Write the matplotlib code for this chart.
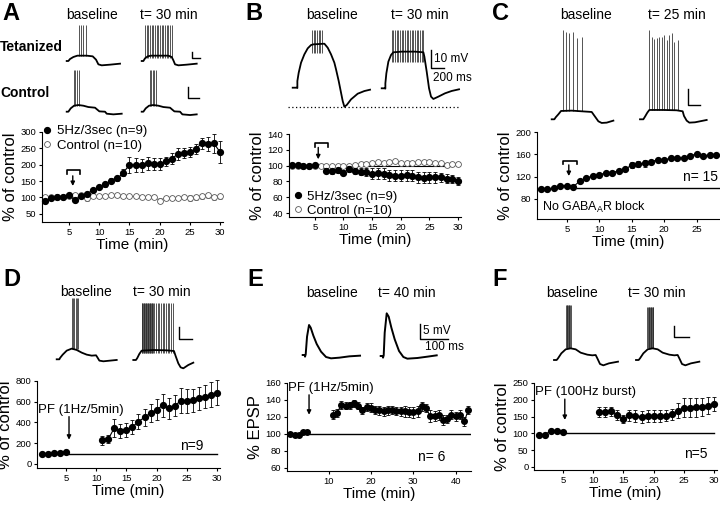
import numpy as np
import matplotlib
matplotlib.use('Agg')
import matplotlib.pyplot as plt
from matplotlib.lines import Line2D

plt.rcParams['font.family'] = ['Liberation Sans', 'DejaVu Sans']
plt.rcParams['axes.linewidth'] = 0.8
plt.rcParams['mathtext.fontset'] = 'custom'
plt.rcParams['mathtext.rm'] = 'Liberation Sans'

nan = np.nan

# ---- time course data (% of control) ----
a_time = list(range(1, 31))
a_tet = [88, 98, 101, 101, 106, 91, 105, 112, 123, 131, 140, 151, 158, 176, 200,
         199, 199, 204, 202, 202, 210, 219, 232, 236, 238, 249, 265, 263, 265, 239]
a_tet_err = [4, 4, 4, 4, 4, 5, 5, 5, 6, 6, 7, 8, 9, 11, 25,
             22, 20, 20, 18, 18, 15, 16, 18, 16, 15, 15, 18, 22, 30, 35]
a_ctl = [100, 100, 102, 101, 105, 108, 108, 97, 103, 104, 103, 106, 106, 104, 104,
         103, 102, 102, 102, 90, 99, 97, 99, 102, 98, 100, 104, 106, 100, 103]
a_ctl_err = [4, 4, 4, 4, 5, 6, 6, 7, 5, 5, 5, 5, 5, 5, 5,
             5, 5, 5, 5, 7, 6, 6, 6, 7, 8, 8, 8, 9, 8, 8]

b_time = list(range(1, 31))
b_tet = [100.5, 100.5, 100, 99.6, 100.5, nan, 93.8, 93, 94, 91, 96, 93, 92.5, 92, 89.6,
         90.4, 90, 88, 87.5, 87.5, 88, 87, 85, 84.5, 85, 85.4, 85, 83.7, 83, 81]
b_tet_err = [1.5, 1.5, 1.5, 1.5, 1.5, 0, 3, 3, 3, 3, 4, 4, 4, 5, 7,
             7, 7, 7, 7, 7, 7, 7, 7, 7, 7, 7, 6, 6, 5, 5]
b_ctl = [100, 100, 100, 100, 100, 100, 99, 99, 99, 99, 99, 101, 102, 102, 103,
         104, 103, 104, 106, 103, 103, 103, 105, 104, 104, 103, 103, 101, 102, 102]
b_ctl_err = [1.5, 1.5, 1.5, 1.5, 1.5, 2, 2, 2, 2, 2, 2, 2, 2, 2, 2,
             2, 2, 2, 2, 2, 2, 2, 2, 2, 2, 2, 2, 2, 2, 2]

c_time = list(range(1, 29))
c_val = [97, 97.5, 98.7, 104, 104, 102, 112, 117, 121.6, 123, 127, 127, 130.6, 133,
         141, 143, 144, 147, 150, 150, 153, 153, 154, 157, 161, 157, 159, 159]
c_err = [2, 2, 2, 2, 2, 2, 2, 2, 2, 2, 2, 2, 2, 2,
         5, 5, 6, 3, 3, 3, 3, 3, 3, 3, 3, 3, 3, 3]

d_time = list(range(1, 31))
d_val = [92, 92, 105, 105, 118, nan, nan, nan, nan, nan,
         226, 239, 347, 319, 328, 357, 408, 449, 491, 523,
         564, 535, 561, 609, 609, 615, 634, 647, 669, 685]
d_err = [10, 10, 10, 10, 10, 0, 0, 0, 0, 0,
         42, 42, 90, 70, 70, 65, 75, 85, 90, 100,
         110, 100, 100, 120, 115, 110, 110, 110, 120, 120]

e_time = list(range(1, 44))
e_val = [100, 99, 99, 102, 102, nan, nan, nan, nan, nan,
         122.5, 124.4, 134.3, 133, 133.5, 136, 133, 127.6, 131.5, 130.8,
         128.4, 127.6, 126.4, 127.6, 128.4, 126.8, 126.4, 126.4, 125.6, 125.2,
         126.4, 132.3, 130.4, 120.5, 121.3, 122, 116.5, 117.3, 122.5, 120.5,
         122.5, 114.5, 128.4]
e_err = [1, 1, 1, 1, 1, 0, 0, 0, 0, 0,
         5, 5, 5, 4, 4, 4, 4, 4, 5, 5,
         5, 5, 5, 5, 5, 5, 5, 6, 6, 6,
         6, 5, 5, 7, 6, 6, 6, 5, 5, 5,
         5, 5, 5]

f_time = list(range(1, 31))
f_val = [95, 96, 108, 107, 105, nan, nan, nan, nan, nan,
         163, 163, 166, 155, 142, 154, 152, 150, 152, 152,
         153, 153, 157, 168, 177, 177, 178, 179, 182, 188]
f_err = [5, 5, 5, 5, 5, 0, 0, 0, 0, 0,
         15, 15, 14, 14, 12, 16, 17, 18, 18, 18,
         18, 17, 16, 22, 28, 28, 28, 27, 25, 20]

# ---- example recordings (sketch of waveforms: (t, v) in local trace units) ----
a_tet_base = [(0, 0), (5, 0), (10, 6), (20, 12), (32, 16), (60, 16), (78, 14), (88, 4),
              (95, -10), (105, -13), (130, -11), (160, -8)]
a_tet_base_spk = [37, 44, 50, 58]
a_tet_30 = [(0, 0), (5, 0), (10, 8), (18, 14), (28, 16), (80, 16), (90, 12), (95, 2),
            (100, -10), (110, -13), (135, -11), (165, -8)]
a_tet_30_spk = [10, 15, 20, 25, 30, 35, 40, 45, 50, 55, 60, 65, 70, 75, 80, 85, 90]
a_ctl_base = [(0, 0), (5, 0), (12, 10), (22, 18), (35, 20), (50, 18), (65, 14), (85, 12),
              (92, 6), (98, 1), (115, 0), (120, -6), (140, -8), (165, -6)]
a_ctl_base_spk = [22, 26, 31, 36]
a_ctl_30 = [(0, 0), (5, 0), (12, 10), (22, 18), (35, 20), (50, 18), (65, 14), (85, 12),
            (92, 6), (98, 1), (115, 0), (122, -8), (145, -10), (165, -8)]
a_ctl_30_spk = [25, 29, 33, 38, 43]

b_base = [(0, 0), (12, 0), (14, -1), (14, 20), (18, 45), (25, 75), (35, 100), (45, 118),
          (55, 128), (62, 130), (95, 132), (105, 120), (115, 100), (125, 75), (130, 55),
          (138, 20), (145, -15), (150, -40), (155, -57), (162, -52), (175, -35),
          (195, -18), (215, -10), (232, -6)]
b_base_spk = [58, 63, 68, 73, 78, 83, 88]
b_30 = [(0, 0), (10, 0), (11, -1), (11, 15), (14, 45), (20, 80), (28, 100), (35, 108),
        (60, 110), (100, 110), (125, 108), (128, 95), (135, 50), (142, 0), (148, -25),
        (155, -32), (170, -25), (190, -15), (210, -8), (232, -3)]
b_30_spk = [30, 35, 40, 45, 50, 55, 60, 65, 70, 75, 80, 85, 90, 95, 100, 105, 110,
            115, 120, 125]

c_base = [(0, 0), (8, 0), (12, 6), (20, 15), (28, 25), (60, 26), (90, 24), (120, 22),
          (130, 8), (140, -6), (150, -11), (165, -10), (185, -4)]
c_base_spk = [33, 43, 53, 65, 75, 90]
c_base_top = [268, 263, 258, 263, 243, 246]
c_25 = [(0, 0), (10, 0), (15, 8), (22, 20), (28, 28), (70, 28), (110, 27), (128, 24),
        (132, 10), (140, -4), (148, -10), (165, -9), (185, -5), (200, -2)]
c_25_spk = [28, 35, 42, 50, 57, 65, 72, 80, 87, 95, 102, 115]
c_25_top = [268, 248, 240, 243, 246, 248, 253, 238, 253, 258, 233, 238]

d_base = [(0, 0), (8, 0), (10, 4), (18, 14), (30, 26), (45, 32), (60, 28), (75, 20),
          (90, 14), (105, 11), (118, 12), (122, 6), (128, -4), (140, -6), (160, -4),
          (180, -2)]
d_base_spk = [45, 49, 53, 57, 61, 65]
d_30 = [(0, 0), (8, 0), (12, 6), (18, 18), (25, 28), (60, 30), (100, 29), (122, 27),
        (127, 12), (135, -10), (142, -22), (150, -25), (165, -15), (180, -8)]
d_30_spk = [25, 27, 29, 31, 33, 35, 37, 39, 41, 43, 45, 47, 49, 51, 53, 55, 57, 59,
            63, 68, 73, 78, 83, 88, 93, 98, 103, 108, 113, 118]

e_base = [(0, 0), (6, 0), (7, -5), (9, 2), (13, 55), (19, 90), (24, 82), (32, 58),
          (42, 33), (55, 10), (70, -6), (85, -10), (110, -8), (140, -4), (172, -2)]
e_40 = [(0, 0), (6, 0), (7, -5), (9, 2), (12, 70), (18, 128), (24, 118), (32, 85),
        (42, 50), (55, 15), (68, -3), (80, -8), (110, -6), (140, -2), (168, 2)]

f_base = [(0, 0), (8, 0), (12, 5), (22, 20), (35, 32), (50, 35), (65, 32), (80, 22),
          (100, 16), (115, 14), (125, 15), (130, 5), (138, -12), (148, -16), (165, -10),
          (192, -5)]
f_base_spk = [36, 38, 40, 42, 44, 46, 48, 50]
f_30 = [(0, 0), (8, 0), (12, 5), (22, 20), (35, 32), (50, 35), (65, 32), (80, 22),
        (100, 16), (115, 14), (125, 15), (130, 5), (138, -12), (148, -16), (165, -10),
        (190, -5)]
f_30_spk = [34, 36, 38, 40, 42, 44, 46, 48, 50, 52]

W, H = 720, 509
fig = plt.figure(figsize=(7.2, 5.09), dpi=100)

# overlay in pixel coords for the example traces and labels
ov = fig.add_axes([0, 0, 1, 1])
ov.set_xlim(0, W)
ov.set_ylim(H, 0)
ov.axis('off')


def box(l, t, r, b):
    return [l / W, 1 - b / H, (r - l) / W, (b - t) / H]


def trace(x0, y0, shape, spk=(), tops=0, bot=0, lw=1.3):
    tx = np.array([p[0] for p in shape]) / 3.0
    tv = np.array([p[1] for p in shape]) / 3.0
    if len(spk):
        ov.vlines(x0 + np.asarray(spk) / 3.0, y0 - bot / 3.0,
                  y0 - np.asarray(tops) / 3.0, color='0.15', lw=0.55)
    ov.plot(x0 + tx, y0 - tv, color='k', lw=lw, solid_joinstyle='round')


def sbar(x, yt, yb, xr):
    ov.plot([x, x, xr], [yt, yb, yb], color='k', lw=1.0)


def lbl(x, y, s, size=10, **kw):
    ov.text(x, y, s, fontsize=size, va='center', **kw)


# letters and headers
for letter, x, y in [('A', 2, 13), ('B', 245, 13), ('C', 492, 13),
                     ('D', 3, 280), ('E', 247, 280), ('F', 492, 280)]:
    lbl(x, y, letter, size=17, fontweight='bold', ha='left')
for x, y, s in [(92, 15, 'baseline'), (169, 15, 't= 30 min'),
                (332, 15, 'baseline'), (420, 15, 't= 30 min'),
                (586, 15, 'baseline'), (677, 15, 't= 25 min'),
                (86, 292, 'baseline'), (162, 292, 't= 30 min'),
                (332, 293, 'baseline'), (407, 293, 't= 40 min'),
                (572, 293, 'baseline'), (657, 293, 't= 30 min')]:
    lbl(x, y, s, ha='center')
lbl(0, 47, 'Tetanized', fontweight='bold', ha='left')
lbl(0, 93, 'Control', fontweight='bold', ha='left')

# traces
trace(66.7, 61, a_tet_base, a_tet_base_spk, 108, 14)
trace(141.7, 61, a_tet_30, a_tet_30_spk, 108, 10)
trace(66.7, 111.7, a_ctl_base, a_ctl_base_spk, 125, 18)
trace(141.7, 111.7, a_ctl_30, a_ctl_30_spk, 125, 18)
sbar(191.7, 51.7, 58.3, 200)
sbar(188.3, 87.3, 98.3, 199)

trace(292.7, 87.7, b_base, b_base_spk, 173, 103)
trace(381.7, 88.3, b_30, b_30_spk, 175, 80)
ov.plot([288, 460], [106.7, 106.7], color='k', lw=0.9, ls=(0, (1, 2)))
sbar(431, 50, 68, 444)
lbl(434, 59, '10 mV', size=8.5, ha='left')
lbl(433, 78, '200 ms', size=8.5, ha='left')

trace(551.7, 119.3, c_base, c_base_spk, c_base_top, 25)
trace(640, 119.3, c_25, c_25_spk, c_25_top, 28)
sbar(688.3, 89.3, 105, 700)

trace(56.7, 359.3, d_base, d_base_spk, 183, 30)
trace(133.3, 360, d_30, d_30_spk, 172, 22)
sbar(179, 327, 339, 192)

trace(302.7, 355, e_base, lw=1.4)
trace(380.7, 356, e_40, lw=1.4)
sbar(420, 324, 339, 448)
lbl(423, 331, '5 mV', size=8.5, ha='left')
lbl(425, 347, '100 ms', size=8.5, ha='left')

trace(554, 360, f_base, f_base_spk, 165, 35)
trace(636, 360, f_30, f_30_spk, 160, 35)
sbar(674, 326, 337, 689)


def setup(ax, xlim, ylim, xticks, yticks, ylabel='% of control'):
    ax.set_facecolor('none')
    ax.set_xlim(*xlim)
    ax.set_ylim(*ylim)
    ax.set_xticks(xticks)
    ax.set_yticks(yticks)
    for s in ('top', 'right'):
        ax.spines[s].set_visible(False)
    ax.tick_params(labelsize=6.8, length=2.5, width=0.8, pad=1.5)
    ax.set_xlabel('Time (min)', fontsize=11, labelpad=1)
    ax.set_ylabel(ylabel, fontsize=12, labelpad=1.5)


def filled(ax, t, v, e, ms=4.2):
    ax.errorbar(t, v, yerr=e, fmt='o-', color='k', ms=ms, lw=0.8, elinewidth=0.6,
                capsize=1.5, capthick=0.6, zorder=3, clip_on=False)


def opened(ax, t, v, e, ms=4.2):
    ax.errorbar(t, v, yerr=e, fmt='o-', color='0.45', mfc='white', mec='0.35',
                mew=0.6, ms=ms, lw=0.5, elinewidth=0.5, capsize=1.3, capthick=0.5,
                zorder=2, clip_on=False)


def bracket(ax, x1, x2, ytop, yleg, xa, ya1, ya2):
    ax.plot([x1, x1, x2, x2], [yleg, ytop, ytop, yleg], color='k', lw=1.2)
    arrow(ax, xa, ya1, ya2)


def arrow(ax, x, y1, y2):
    ax.annotate('', xy=(x, y2), xytext=(x, y1),
                arrowprops=dict(arrowstyle='-|>', color='k', lw=1.0,
                                mutation_scale=6, shrinkA=0, shrinkB=0))


hdl = [Line2D([], [], ls='', marker='o', color='k', ms=4.2),
       Line2D([], [], ls='', marker='o', mfc='white', mec='0.35', mew=0.6, ms=4.2)]
names = ['5Hz/3sec (n=9)', 'Control (n=10)']
leg_kw = dict(frameon=False, fontsize=9.5, handlelength=0.8, handletextpad=0.3,
              labelspacing=0.15, borderpad=0, borderaxespad=0)

# A
ax = fig.add_axes(box(42, 132, 223, 222))
setup(ax, (0.5, 30.5), (25, 300), [5, 10, 15, 20, 25, 30], [50, 100, 150, 200, 250, 300])
opened(ax, a_time, a_ctl, a_ctl_err)
filled(ax, a_time, a_tet, a_tet_err)
bracket(ax, 4.7, 6.8, 185, 172, 5.6, 166, 135)
ax.legend(hdl, names, loc='upper left', bbox_to_anchor=(0.0, 1.075), **leg_kw)

# B
ax = fig.add_axes(box(289, 134, 461, 217))
setup(ax, (0.5, 30.5), (35, 140), [5, 10, 15, 20, 25, 30], [40, 60, 80, 100, 120, 140])
ax.plot([7, 29], [100, 100], color='k', lw=0.8, zorder=1)
opened(ax, b_time, b_ctl, b_ctl_err)
filled(ax, b_time, b_tet, b_tet_err)
bracket(ax, 5.0, 7.3, 129, 124, 5.6, 123, 108)
ax.legend(hdl, names, loc='lower left', bbox_to_anchor=(0.02, 0.0), **leg_kw)

# C
ax = fig.add_axes(box(537, 132, 720, 219))
setup(ax, (0.4, 28.6), (44, 200), [5, 10, 15, 20, 25], [80, 120, 160, 200])
ax.plot([6.5, 28.6], [100, 100], color='k', lw=1.0, zorder=1)
filled(ax, c_time, c_val, c_err)
bracket(ax, 4.4, 6.6, 148.7, 143, 5.3, 141, 121)
ax.text(28.3, 118.6, 'n= 15', fontsize=10, ha='right', va='center')
ax.text(1.2, 64, r'No GABA$_\mathregular{A}$R block', fontsize=9, ha='left', va='center')

# D
ax = fig.add_axes(box(37, 381, 220, 468))
setup(ax, (0.2, 30.5), (-40, 800), [5, 10, 15, 20, 25, 30], [0, 200, 400, 600, 800])
ax.plot([5.5, 30], [100, 100], color='k', lw=1.0, zorder=1)
filled(ax, d_time, d_val, d_err)
arrow(ax, 5.5, 456, 233)
ax.text(0.4, 519, 'PF (1Hz/5min)', fontsize=9.5, ha='left', va='center')
ax.text(27.7, 170, 'n=9', fontsize=10, ha='right', va='center')

# E
ax = fig.add_axes(box(287, 383, 471, 471))
setup(ax, (0.2, 43.6), (56, 160), [10, 20, 30, 40], [60, 80, 100, 120, 140, 160],
      ylabel='% EPSP')
ax.plot([5.7, 43.6], [100, 100], color='k', lw=1.0, zorder=1)
filled(ax, e_time, e_val, e_err, ms=4.0)
arrow(ax, 5.4, 146, 122.5)
ax.text(0.5, 154, 'PF (1Hz/5min)', fontsize=9.5, ha='left', va='center')
ax.text(31, 72, 'n= 6', fontsize=10, ha='left', va='center')

# F
ax = fig.add_axes(box(534, 383, 717, 470))
setup(ax, (0.2, 30.5), (-9, 250), [5, 10, 15, 20, 25, 30], [0, 50, 100, 150, 200, 250])
ax.plot([5.5, 30], [100, 100], color='k', lw=1.0, zorder=1)
filled(ax, f_time, f_val, f_err)
arrow(ax, 5.3, 202, 140)
ax.text(0.4, 223, 'PF (100Hz burst)', fontsize=9.5, ha='left', va='center')
ax.text(29, 38, 'n=5', fontsize=10, ha='right', va='center')

fig.savefig('out.png', dpi=100)
